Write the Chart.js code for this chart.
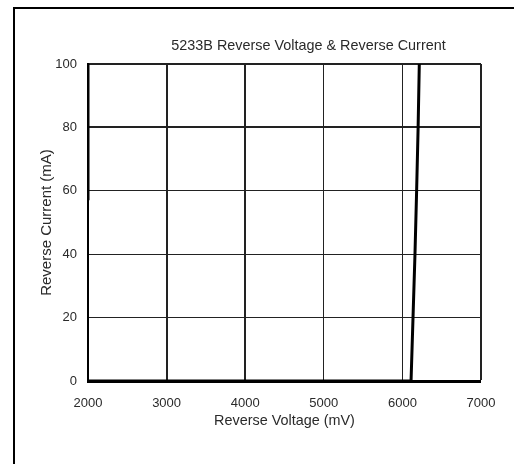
<!DOCTYPE html>
<html>
<head>
<meta charset="utf-8">
<script src="https://cdn.jsdelivr.net/npm/chart.js@4"></script>
<style>
  html, body { margin: 0; padding: 0; background: #fff; }
  #wrap { width: 514px; height: 464px; }
</style>
</head>
<body>
<div id="wrap"><canvas id="chart" width="514" height="464"></canvas></div>
<script>
// ── Data ────────────────────────────────────────────────────────────
const chartTitle = "5233B Reverse Voltage & Reverse Current";
const voltageMv = [2000, 6110, 6135, 6160, 6181, 6200, 6215];
const currentMa = [0, 0, 20, 40, 60, 80, 100];
const edgeVoltage = [2000, 2000];
const edgeCurrent = [100, 57];
const xTicks = [2000, 3000, 4000, 5000, 6000, 7000];
const yTicks = [0, 20, 40, 60, 80, 100];
const xGridWidths = [0, 2, 2, 1, 1, 2];
const yGridWidths = [0, 1, 1, 1, 2, 2];

const FONT = "'Liberation Sans', Arial, sans-serif";
const TEXT = "#2a2a2a";

// frame round the figure + chart title
const framePlugin = {
    id: "frame",
    beforeDraw(chart) {
        const c = chart.ctx;
        c.save();
        c.fillStyle = "#fff";
        c.fillRect(0, 0, chart.width, chart.height);
        c.strokeStyle = "#000";
        c.lineWidth = 2;
        c.strokeRect(14, 8, 1000, 1000);
        c.restore();
    },
    afterDraw(chart) {
        const c = chart.ctx;
        const a = chart.chartArea;
        c.save();
        c.fillStyle = TEXT;
        c.font = "14.4px " + FONT;
        c.textAlign = "center";
        c.textBaseline = "middle";
        c.fillText(chartTitle, (a.left + a.right) / 2 + 24, 46);
        c.restore();
    }
};

const toXY = (xs, ys) => xs.map((x, i) => ({ x, y: ys[i] }));

new Chart(document.getElementById("chart").getContext("2d"), {
    type: "line",
    data: {
        datasets: [{
            data: toXY(voltageMv, currentMa),
            borderColor: "#000",
            borderWidth: 3,
            pointRadius: 0,
            tension: 0,
        }, {
            data: toXY(edgeVoltage, edgeCurrent),
            borderColor: "#000",
            borderWidth: 3,
            pointRadius: 0,
        }]
    },
    options: {
        responsive: false,
        animation: false,
        layout: { padding: { top: 64, right: 33, left: 0, bottom: 0 } },
        plugins: {
            legend: { display: false },
            tooltip: { enabled: false },
        },
        scales: {
            x: {
                type: "linear",
                min: 2000,
                max: 7000,
                afterBuildTicks: s => { s.ticks = xTicks.map(v => ({ value: v })); },
                afterFit: s => { s.height = 83; },
                ticks: {
                    color: TEXT,
                    font: { size: 13, family: FONT },
                    padding: 15,
                    maxRotation: 0,
                    callback: v => String(v),
                },
                grid: {
                    drawTicks: false,
                    color: "#222",
                    lineWidth: ctx => xGridWidths[ctx.index] ?? 1,
                },
                border: { color: "#000", width: 3 },
                title: {
                    display: true,
                    text: "Reverse Voltage (mV)",
                    color: TEXT,
                    font: { size: 14.4, family: FONT },
                    padding: { top: 0, bottom: 34 },
                },
            },
            y: {
                min: 0,
                max: 100,
                afterBuildTicks: s => { s.ticks = yTicks.map(v => ({ value: v })); },
                afterFit: s => { s.width = 88; },
                ticks: {
                    color: TEXT,
                    font: { size: 13, family: FONT },
                    padding: 11,
                    callback: v => String(v),
                },
                grid: {
                    drawTicks: false,
                    color: "#222",
                    lineWidth: ctx => yGridWidths[ctx.index] ?? 1,
                },
                border: { color: "#000", width: 2 },
                title: {
                    display: true,
                    text: "Reverse Current (mA)",
                    color: TEXT,
                    font: { size: 15, family: FONT },
                    padding: { top: 38, bottom: 0 },
                },
            },
        },
    },
    plugins: [framePlugin],
});
</script>
</body>
</html>
